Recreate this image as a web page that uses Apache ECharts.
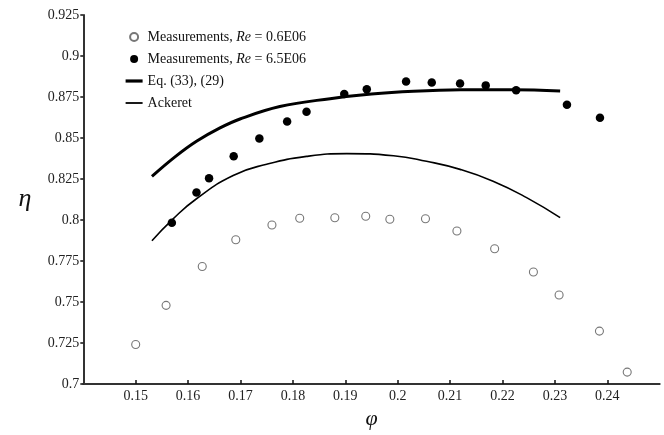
<!DOCTYPE html>
<html>
<head>
<meta charset="utf-8">
<script src="https://cdn.jsdelivr.net/npm/echarts@6/dist/echarts.min.js"></script>
<style>html,body{margin:0;padding:0;background:#fff}#c{width:664px;height:435px}</style>
</head>
<body>
<div id="c"></div>
<script>
// Measurements, Re = 0.6E06 (open circles)
const phiOpen = [0.1500,0.1558,0.1627,0.1691,0.1760,0.1813,0.1880,0.1939,0.1985,0.2053,0.2113,0.2185,0.2259,0.2308,0.2385,0.2438];
const etaOpen = [0.7241,0.7480,0.7717,0.7880,0.7970,0.8011,0.8014,0.8023,0.8005,0.8008,0.7933,0.7825,0.7683,0.7543,0.7323,0.7073];
// Measurements, Re = 6.5E06 (filled circles)
const phiFilled = [0.1569,0.1616,0.1640,0.1687,0.1736,0.1789,0.1826,0.1898,0.1941,0.2016,0.2065,0.2119,0.2168,0.2226,0.2323,0.2386];
const etaFilled = [0.7983,0.8168,0.8255,0.8389,0.8497,0.8601,0.8660,0.8768,0.8797,0.8844,0.8838,0.8832,0.8821,0.8791,0.8703,0.8623];
// Eq. (33), (29)
const phiEq = [0.1531,0.1575,0.1616,0.1660,0.1699,0.1775,0.1871,0.1950,0.2030,0.2120,0.2220,0.2310];
const etaEq = [0.8266,0.8385,0.8480,0.8560,0.8616,0.8692,0.8740,0.8768,0.8785,0.8794,0.8795,0.8787];
// Ackeret
const phiAck = [0.1531,0.1570,0.1616,0.1686,0.1750,0.1826,0.1903,0.1992,0.2055,0.2119,0.2182,0.2246,0.2310];
const etaAck = [0.7874,0.8003,0.8130,0.8272,0.8340,0.8388,0.8405,0.8392,0.8358,0.8309,0.8237,0.8137,0.8015];
// Tick labels
const xTicks = [0.15,0.16,0.17,0.18,0.19,0.20,0.21,0.22,0.23,0.24];
const yTicks = [0.7,0.725,0.75,0.775,0.8,0.825,0.85,0.875,0.9,0.925];
const seriesNames = ['Measurements, Re = 0.6E06','Measurements, Re = 6.5E06','Eq. (33), (29)','Ackeret'];

const zip = (a, b) => a.map((v, i) => [v, b[i]]);
const FONT = 'Liberation Serif';
const fmt = v => String(+(+v).toFixed(3));

const chart = echarts.init(document.getElementById('c'), null, {renderer: 'canvas'});
chart.setOption({
  animation: false,
  backgroundColor: '#fff',
  grid: {left: 83.3, right: 4.3, top: 15, bottom: 37.3, containLabel: false},
  legend: {
    orient: 'vertical', left: 119, top: 25, itemGap: 8, itemWidth: 17, itemHeight: 8,
    textStyle: {fontFamily: FONT, fontSize: 14, color: '#111',
      rich: {n: {fontFamily: FONT, fontSize: 14, color: '#111'},
             i: {fontFamily: FONT, fontSize: 14, color: '#111', fontStyle: 'italic'}}},
    formatter: name => {
      const m = name.match(/^(Measurements, )Re( = .*)$/);
      return m ? '{n|' + m[1] + '}{i|Re}{n|' + m[2] + '}' : name;
    },
    data: [
      {name: seriesNames[0]},
      {name: seriesNames[1]},
      {name: seriesNames[2], itemStyle: {opacity: 0}, lineStyle: {width: 3.2, color: '#000'}},
      {name: seriesNames[3], itemStyle: {opacity: 0}, lineStyle: {width: 1.8, color: '#000'}}
    ]
  },
  xAxis: {
    type: 'value', min: 0.14, max: 0.25,
    name: '\u03c6', nameLocation: 'middle', nameGap: 17,
    nameTextStyle: {fontFamily: FONT, fontSize: 22, fontStyle: 'italic', color: '#111'},
    splitLine: {show: false},
    axisLine: {show: true, onZero: false, lineStyle: {color: '#333', width: 2}},
    axisTick: {show: true, inside: true, length: 4, lineStyle: {color: '#111', width: 1.5}, customValues: xTicks},
    axisLabel: {fontFamily: FONT, fontSize: 14, color: '#222', margin: 5, customValues: xTicks, formatter: fmt}
  },
  yAxis: {
    type: 'value', min: 0.7, max: 0.925,
    name: '\u03b7', nameLocation: 'middle', nameGap: 52, nameRotate: 0,
    nameTextStyle: {fontFamily: FONT, fontSize: 26, fontStyle: 'italic', color: '#111', padding: [0, 0, 8, 0]},
    splitLine: {show: false},
    axisLine: {show: true, onZero: false, lineStyle: {color: '#333', width: 2}},
    axisTick: {show: true, inside: false, length: 3, lineStyle: {color: '#111', width: 1.5}, customValues: yTicks},
    axisLabel: {fontFamily: FONT, fontSize: 14, color: '#222', margin: 4, customValues: yTicks, formatter: fmt}
  },
  series: [
    {name: seriesNames[0], type: 'scatter', data: zip(phiOpen, etaOpen), symbol: 'circle', symbolSize: 8,
     itemStyle: {color: '#fff', borderColor: '#777', borderWidth: 1.1, opacity: 1}},
    {name: seriesNames[1], type: 'scatter', data: zip(phiFilled, etaFilled), symbol: 'circle', symbolSize: 8.5,
     itemStyle: {color: '#000', opacity: 1}},
    {name: seriesNames[2], type: 'line', data: zip(phiEq, etaEq), smooth: 0.4, showSymbol: false, symbol: 'none',
     lineStyle: {color: '#000', width: 3}, itemStyle: {color: '#000'}},
    {name: seriesNames[3], type: 'line', data: zip(phiAck, etaAck), smooth: 0.5, showSymbol: false, symbol: 'none',
     lineStyle: {color: '#000', width: 1.6}, itemStyle: {color: '#000'}}
  ]
});
</script>
</body>
</html>
